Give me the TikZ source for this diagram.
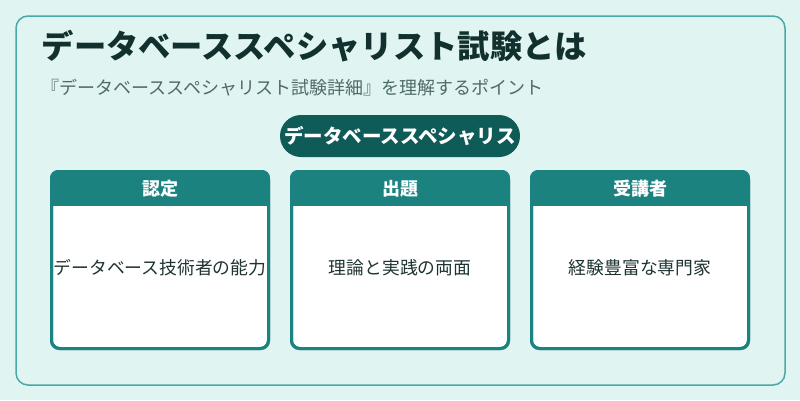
\documentclass[tikz,border=0pt]{standalone}
\usepackage{fontspec}
\setmainfont{Noto Sans CJK JP}
\usetikzlibrary{positioning}

\definecolor{bgmint}{HTML}{E0F4F2}
\definecolor{frameteal}{HTML}{4AA9A6}
\definecolor{cardteal}{HTML}{1B8280}
\definecolor{pillteal}{HTML}{0F5B58}
\definecolor{titletext}{HTML}{12302E}
\definecolor{subtext}{HTML}{4F6B69}
\definecolor{bodytext}{HTML}{1E3332}

\begin{document}
\begin{tikzpicture}[x=1pt, y=-1pt,
    card/.style={draw=cardteal, line width=3pt, rounded corners=8pt, minimum width=217pt, minimum height=177pt, inner sep=0pt},
    head/.style={text=white, font=\fontsize{18}{20}\selectfont\bfseries},
    body/.style={text=bodytext, font=\fontsize{17.8}{20}\selectfont}
]
\fill[bgmint] (0,0) rectangle (800,400);
\useasboundingbox (0,0) rectangle (800,400);
\draw[frameteal, line width=1.5pt, rounded corners=12pt] (16,16) rectangle (785,385);

% title
\node[anchor=west, inner sep=0pt, text=titletext, font=\fontsize{32.3}{36}\selectfont\bfseries] (title) at (41.5,46) {データベーススペシャリスト試験とは};
\node[anchor=west, inner sep=0pt, text=subtext, font=\fontsize{18}{20}\selectfont] (sub) at (41,88) {『データベーススペシャリスト試験詳細』を理解するポイント};

% pill
\node[fill=pillteal, rounded corners=21pt, minimum width=240pt, minimum height=42pt, inner sep=0pt] (pill) at (400,136) {};
\node[text=white, inner sep=0pt, font=\fontsize{19.5}{22}\selectfont\bfseries] (pilltext) at (pill.center) {データベーススペシャリス};

% cards
\foreach \cx/\nm/\hd/\bd in {160/c1/認定/データベース技術者の能力, 400/c2/出題/理論と実践の両面, 640/c3/受講者/経験豊富な専門家} {
  \node[card, fill=white] (\nm) at (\cx,260) {};
  \begin{scope}
    \clip[rounded corners=8pt] (\nm.north west) rectangle (\nm.south east);
    \fill[cardteal] (\nm.north west) rectangle ([yshift=-36pt]\nm.north east);
  \end{scope}
  \node[card] at (\nm.center) {};
  \node[head] (\nm h) at ([yshift=-19pt]\nm.north) {\hd};
  \node[body] (\nm b) at ([yshift=-8pt]\nm.center) {\bd};
}
\end{tikzpicture}
\end{document}
